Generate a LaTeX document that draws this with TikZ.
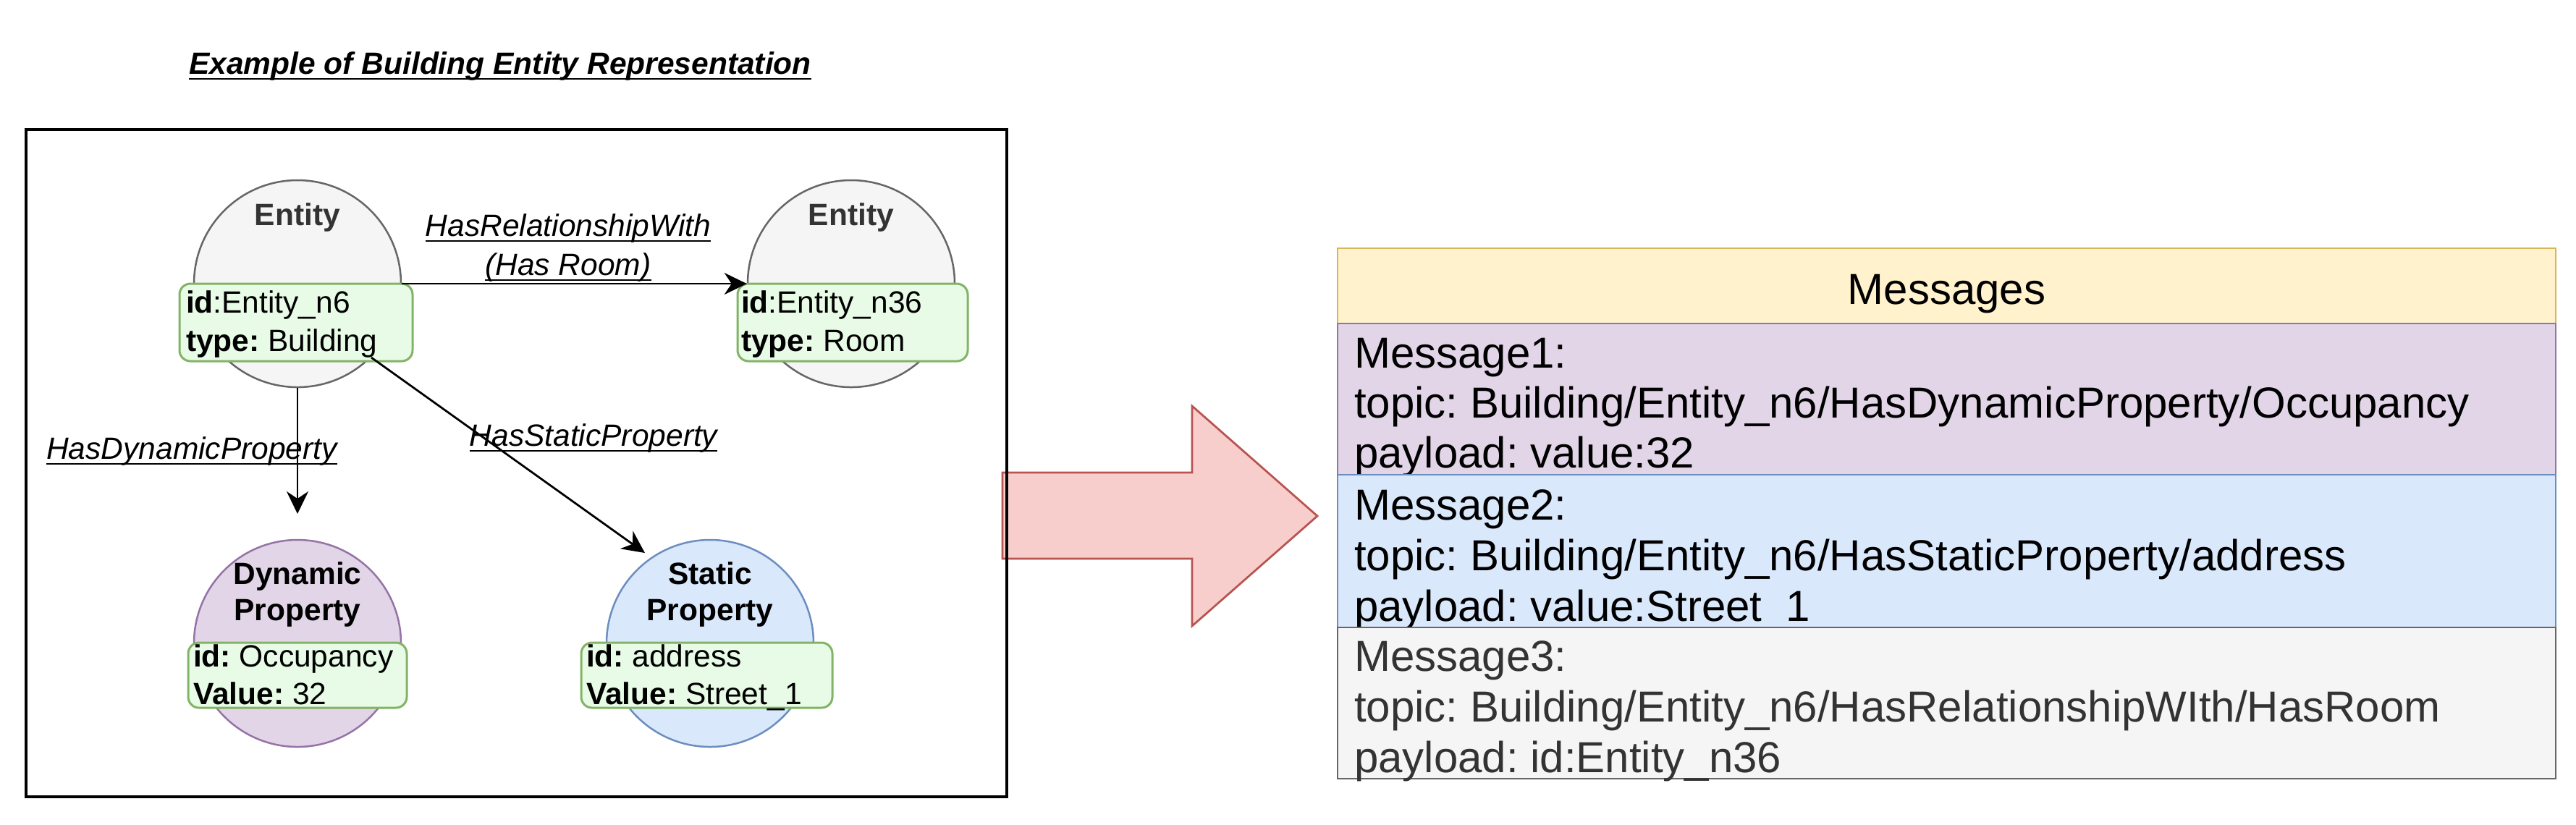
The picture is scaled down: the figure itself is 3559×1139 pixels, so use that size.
\documentclass[tikz,border=0pt]{standalone}
\usepackage{fontspec}
\setmainfont{Liberation Sans}
\usetikzlibrary{arrows.meta}
\definecolor{entfill}{HTML}{F5F5F5}
\definecolor{entline}{HTML}{666666}
\definecolor{enttext}{HTML}{333333}
\definecolor{grfill}{HTML}{E8FBE6}
\definecolor{grline}{HTML}{82B366}
\definecolor{pufill}{HTML}{E1D5E7}
\definecolor{puline}{HTML}{9673A6}
\definecolor{blfill}{HTML}{DAE8FC}
\definecolor{blline}{HTML}{6C8EBF}
\definecolor{yefill}{HTML}{FFF2CC}
\definecolor{yeline}{HTML}{D6B656}
\definecolor{refill}{HTML}{F8CECC}
\definecolor{reline}{HTML}{B85450}
\newcommand{\ulin}[1]{\underline{\smash{#1}}}
\frenchspacing
\begin{document}
\begin{tikzpicture}[x=0.2pt,y=-0.2pt,
  small/.style={font=\fontsize{8.5pt}{10.6pt}\selectfont, inner sep=0pt, outer sep=0pt},
  smallb/.style={font=\fontsize{8.5pt}{10.6pt}\selectfont\bfseries, inner sep=0pt, outer sep=0pt},
  lbl/.style={font=\fontsize{8.5pt}{10.6pt}\selectfont\itshape, inner sep=0pt, outer sep=0pt},
  big/.style={font=\fontsize{12pt}{14pt}\selectfont, inner sep=0pt, outer sep=0pt},
  bubble/.style={circle, minimum size=57.2pt, inner sep=0pt, line width=0.5pt},
  infobox/.style={rectangle, rounded corners=3pt, draw=grline, fill=grfill, line width=0.6pt, inner sep=0pt, minimum height=21.4pt},
  conn/.style={line width=0.55pt, -{Stealth[length=6.2pt,width=6pt,inset=2pt]}},
  row/.style={rectangle, minimum width=336.6pt, inner sep=0pt, line width=0.55pt},
]
\useasboundingbox (0,0) rectangle (3559,1139);
\fill[white] (0,0) rectangle (3559,1139);

% title
\node[font=\fontsize{8.5pt}{10.6pt}\selectfont\bfseries\itshape, inner sep=0pt, anchor=base] (title) at (691,102) {\ulin{Example of Building Entity Representation}};

% big arrow
\draw[fill=refill, draw=reline, line width=0.55pt] (1385,653) -- (1647,653) -- (1647,561) -- (1820,713) -- (1647,865) -- (1647,772) -- (1385,772) -- cycle;

% frame
\draw[line width=0.8pt] (36,179) rectangle (1391,1101);

% circles
\node[bubble, draw=entline, fill=entfill] (e1) at (411,392) {};
\node[bubble, draw=entline, fill=entfill] (e2) at (1176,392) {};
\node[bubble, draw=puline, fill=pufill] (dyn) at (411,889) {};
\node[bubble, draw=blline, fill=blfill] (stat) at (981,889) {};

\node[smallb, text=enttext, anchor=base] (e1t) at (411,311) {Entity};
\node[smallb, text=enttext, anchor=base] (e2t) at (1176,311) {Entity};
\node[smallb, anchor=base] (dynt1) at (411,807) {Dynamic};
\node[smallb, anchor=base] (dynt2) at (411,857) {Property};
\node[smallb, anchor=base] (statt1) at (981,807) {Static};
\node[smallb, anchor=base] (statt2) at (981,857) {Property};

% info boxes
\node[infobox, minimum width=64.4pt] (e1b) at (409,445.5) {};
\node[infobox, minimum width=63.6pt] (e2b) at (1178,445.5) {};
\node[infobox, minimum width=60.4pt, minimum height=18pt] (dynb) at (411,933) {};
\node[infobox, minimum width=69.4pt, minimum height=18pt] (statb) at (976.5,933) {};

\node[small, anchor=base west] (e1b1) at (257,432) {\textbf{id}:Entity\_n6};
\node[small, anchor=base west] (e1b2) at (257,485) {\textbf{type:} Building};
\node[small, anchor=base west] (e2b1) at (1024,432) {\textbf{id}:Entity\_n36};
\node[small, anchor=base west] (e2b2) at (1024,485) {\textbf{type:} Room};
\node[small, anchor=base west] (dynb1) at (267,921) {\textbf{id:} Occupancy};
\node[small, anchor=base west] (dynb2) at (267,973) {\textbf{Value:} 32};
\node[small, anchor=base west] (statb1) at (810,921) {\textbf{id:} address};
\node[small, anchor=base west] (statb2) at (810,973) {\textbf{Value:} Street\_1};

% connectors
\coordinate (dyntip) at (411,710);
\coordinate (stattip) at (891,764);
\draw[conn] (e1.east) -- (e2.west);
\draw[conn] (e1.south) -- (dyntip);
\draw[conn] (e1.south east) -- (stattip);

\node[lbl, anchor=base] (rl1) at (785,326) {\ulin{HasRelationshipWith}};
\node[lbl, anchor=base] (rl2) at (785,380) {\ulin{(Has Room)}};
\node[lbl, anchor=base] (dl) at (265,634) {\ulin{HasDynamicProperty}};
\node[lbl, anchor=base] (sl) at (820,616) {\ulin{HasStaticProperty}};

% messages table
\node[row, draw=yeline, fill=yefill, minimum height=20.8pt] (mh) at (2689.5,395) {};
\node[big, anchor=base] (mht) at (2689.5,420) {Messages};

\node[row, draw=puline, fill=pufill, minimum height=41.8pt] (m1) at (2689.5,551.5) {};
\node[big, anchor=base west] (m1a) at (1871,508) {Message1:};
\node[big, anchor=base west] (m1b) at (1871,577) {topic: Building/Entity\_n6/HasDynamicProperty/Occupancy};
\node[big, anchor=base west] (m1c) at (1871,646) {payload: value:32};

\node[row, draw=blline, fill=blfill, minimum height=42.2pt] (m2) at (2689.5,761.5) {};
\node[big, anchor=base west] (m2a) at (1871,718) {Message2:};
\node[big, anchor=base west] (m2b) at (1871,788) {topic: Building/Entity\_n6/HasStaticProperty/address};
\node[big, anchor=base west] (m2c) at (1871,858) {payload: value:Street\_1};

\node[row, draw=entline, fill=entfill, minimum height=41.8pt] (m3) at (2689.5,971.5) {};
\node[big, text=enttext, anchor=base west] (m3a) at (1871,927) {Message3:};
\node[big, text=enttext, anchor=base west] (m3b) at (1871,997) {topic: Building/Entity\_n6/HasRelationshipWIth/HasRoom};
\node[big, text=enttext, anchor=base west] (m3c) at (1871,1067) {payload: id:Entity\_n36};
\end{tikzpicture}
\end{document}
